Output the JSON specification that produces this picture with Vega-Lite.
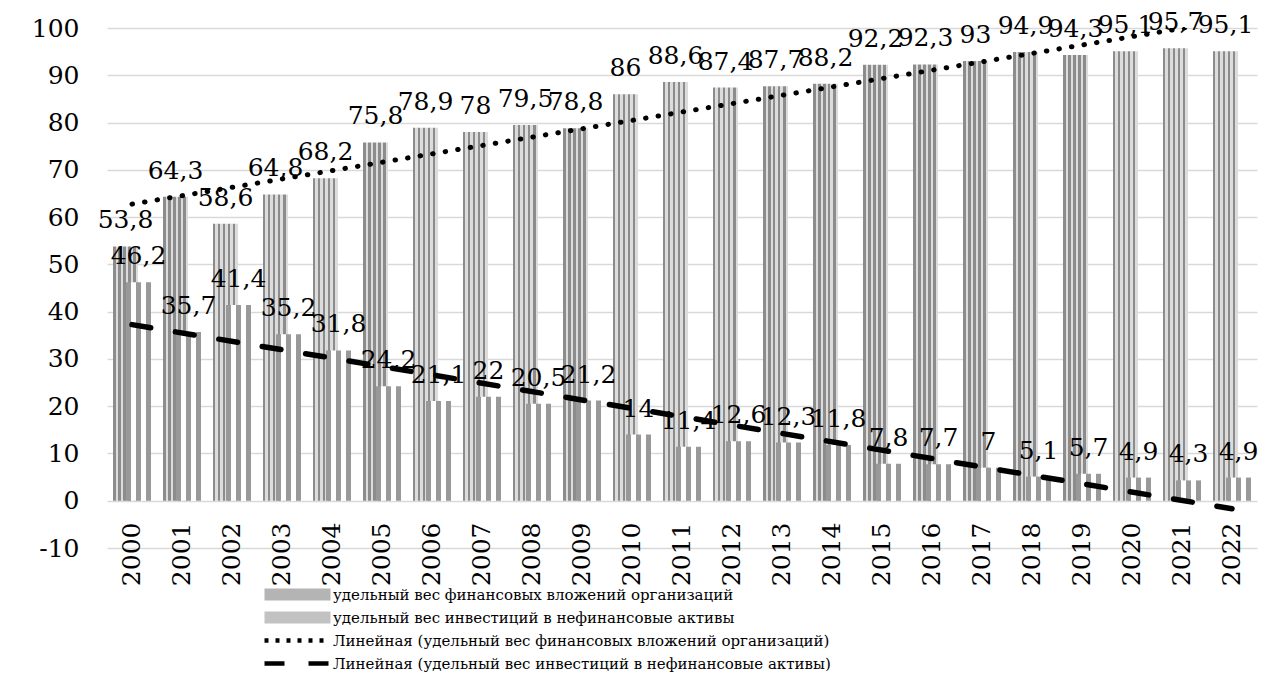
{
  "$schema": "https://vega.github.io/schema/vega-lite/v6.json",
  "width": 1150,
  "height": 520,
  "autosize": {"type": "none"},
  "padding": {"left": 107, "top": 28, "right": 31, "bottom": 136},
  "background": "white",
  "config": {
    "locale": {"number": {"decimal": ",", "thousands": " ", "grouping": [3], "currency": ["", ""], "minus": "-"}},
    "view": {"stroke": null},
    "font": "DejaVu Serif",
    "legend": {"padding": 0}
  },
  "data": {
    "values": [
      {"year": 2000, "fin": 53.8, "nonfin": 46.2},
      {"year": 2001, "fin": 64.3, "nonfin": 35.7},
      {"year": 2002, "fin": 58.6, "nonfin": 41.4},
      {"year": 2003, "fin": 64.8, "nonfin": 35.2},
      {"year": 2004, "fin": 68.2, "nonfin": 31.8},
      {"year": 2005, "fin": 75.8, "nonfin": 24.2},
      {"year": 2006, "fin": 78.9, "nonfin": 21.1},
      {"year": 2007, "fin": 78, "nonfin": 22},
      {"year": 2008, "fin": 79.5, "nonfin": 20.5},
      {"year": 2009, "fin": 78.8, "nonfin": 21.2},
      {"year": 2010, "fin": 86, "nonfin": 14},
      {"year": 2011, "fin": 88.6, "nonfin": 11.4},
      {"year": 2012, "fin": 87.4, "nonfin": 12.6},
      {"year": 2013, "fin": 87.7, "nonfin": 12.3},
      {"year": 2014, "fin": 88.2, "nonfin": 11.8},
      {"year": 2015, "fin": 92.2, "nonfin": 7.8},
      {"year": 2016, "fin": 92.3, "nonfin": 7.7},
      {"year": 2017, "fin": 93, "nonfin": 7},
      {"year": 2018, "fin": 94.9, "nonfin": 5.1},
      {"year": 2019, "fin": 94.3, "nonfin": 5.7},
      {"year": 2020, "fin": 95.1, "nonfin": 4.9},
      {"year": 2021, "fin": 95.7, "nonfin": 4.3},
      {"year": 2022, "fin": 95.1, "nonfin": 4.9}
    ]
  },
  "encoding": {
    "x": {
      "field": "year",
      "type": "ordinal",
      "scale": {"paddingInner": 0, "paddingOuter": 0},
      "axis": {
        "title": null,
        "labelAngle": 270,
        "domain": false,
        "ticks": false,
        "tickSize": 0,
        "offset": -47,
        "labelPadding": 21,
        "labelFontSize": 25,
        "labelFont": "DejaVu Serif",
        "labelColor": "black",
        "grid": false
      }
    }
  },
  "layer": [
    {
      "mark": {
        "type": "bar",
        "width": {"band": 0.5},
        "xOffset": -6.5,
        "fill": {
          "gradient": "linear", "x1": 0, "y1": 0, "x2": 1, "y2": 0,
          "stops": [
            {"offset": 0, "color": "#8c8c8c"}, {"offset": 0.1, "color": "#8c8c8c"},
            {"offset": 0.1, "color": "#dcdcdc"}, {"offset": 0.2, "color": "#dcdcdc"},
            {"offset": 0.2, "color": "#8c8c8c"}, {"offset": 0.3, "color": "#8c8c8c"},
            {"offset": 0.3, "color": "#dcdcdc"}, {"offset": 0.4, "color": "#dcdcdc"},
            {"offset": 0.4, "color": "#8c8c8c"}, {"offset": 0.5, "color": "#8c8c8c"},
            {"offset": 0.5, "color": "#dcdcdc"}, {"offset": 0.6, "color": "#dcdcdc"},
            {"offset": 0.6, "color": "#8c8c8c"}, {"offset": 0.7, "color": "#8c8c8c"},
            {"offset": 0.7, "color": "#dcdcdc"}, {"offset": 0.8, "color": "#dcdcdc"},
            {"offset": 0.8, "color": "#8c8c8c"}, {"offset": 0.9, "color": "#8c8c8c"},
            {"offset": 0.9, "color": "#dcdcdc"}, {"offset": 1, "color": "#dcdcdc"}
          ]
        }
      },
      "encoding": {
        "y": {
          "field": "fin",
          "type": "quantitative",
          "scale": {"domain": [-10, 100], "nice": false, "zero": false},
          "axis": {
            "title": null,
            "values": [-10, 0, 10, 20, 30, 40, 50, 60, 70, 80, 90, 100],
            "grid": true,
            "gridColor": "#d9d9d9",
            "gridWidth": 1.3,
            "domain": false,
            "ticks": false,
            "labelFontSize": 25,
            "labelFont": "DejaVu Serif",
            "labelColor": "black",
            "labelPadding": 28,
            "format": "d"
          }
        },
        "y2": {"datum": 0}
      }
    },
    {
      "mark": {
        "type": "bar",
        "width": {"band": 0.5},
        "xOffset": 6.5,
        "fill": {
          "gradient": "linear", "x1": 0, "y1": 0, "x2": 1, "y2": 0,
          "stops": [
            {"offset": 0, "color": "#999999"}, {"offset": 0.2, "color": "#999999"},
            {"offset": 0.2, "color": "#ffffff"}, {"offset": 0.4, "color": "#ffffff"},
            {"offset": 0.4, "color": "#999999"}, {"offset": 0.6, "color": "#999999"},
            {"offset": 0.6, "color": "#ffffff"}, {"offset": 0.8, "color": "#ffffff"},
            {"offset": 0.8, "color": "#999999"}, {"offset": 1, "color": "#999999"}
          ]
        }
      },
      "encoding": {
        "y": {"field": "nonfin", "type": "quantitative"},
        "y2": {"datum": 0}
      }
    },
    {
      "mark": {"type": "text", "baseline": "alphabetic", "dy": -18, "xOffset": -6.5, "fontSize": 25, "font": "DejaVu Serif", "color": "black"},
      "encoding": {
        "y": {"field": "fin", "type": "quantitative"},
        "text": {"field": "fin", "type": "quantitative", "format": ".1~f"}
      }
    },
    {
      "mark": {"type": "text", "baseline": "alphabetic", "dy": -18, "xOffset": 6.5, "fontSize": 25, "font": "DejaVu Serif", "color": "black"},
      "encoding": {
        "y": {"field": "nonfin", "type": "quantitative"},
        "text": {"field": "nonfin", "type": "quantitative", "format": ".1~f"}
      }
    },
    {
      "transform": [{"regression": "fin", "on": "year"}],
      "mark": {"type": "line", "clip": true, "color": "black", "strokeWidth": 5, "strokeDash": [0.5, 12.2], "strokeCap": "round"},
      "encoding": {
        "y": {"field": "fin", "type": "quantitative"}
      }
    },
    {
      "transform": [{"regression": "nonfin", "on": "year"}],
      "mark": {"type": "line", "clip": true, "color": "black", "strokeWidth": 5.5, "strokeDash": [19, 25], "strokeCap": "round"},
      "encoding": {
        "y": {"field": "nonfin", "type": "quantitative"}
      }
    },
    {
      "transform": [{"filter": "false"}],
      "mark": {"type": "point", "filled": true, "opacity": 1, "strokeWidth": 4.5, "strokeCap": "round"},
      "encoding": {
        "shape": {
          "datum": "удельный вес финансовых вложений организаций",
          "scale": {
            "domain": [
              "удельный вес финансовых вложений организаций",
              "удельный вес инвестиций в нефинансовые активы",
              "Линейная (удельный вес финансовых вложений организаций)",
              "Линейная (удельный вес инвестиций в нефинансовые активы)"
            ],
            "range": ["M-1,-0.18H1V0.18H-1Z", "M-1,-0.18H1V0.18H-1Z", "M-1,0H1", "M-1,0H1"]
          },
          "legend": {
            "orient": "none",
            "legendX": 155,
            "legendY": 555,
            "title": null,
            "direction": "vertical",
            "symbolSize": 4356,
            "symbolStrokeWidth": 4.5,
            "symbolOpacity": 1,
            "clipHeight": 23,
            "rowPadding": 0,
            "labelFontSize": 15,
            "labelFont": "DejaVu Serif",
            "labelColor": "black",
            "labelOffset": 0,
            "labelLimit": 0
          }
        },
        "fill": {
          "datum": "удельный вес финансовых вложений организаций",
          "scale": {
            "domain": [
              "удельный вес финансовых вложений организаций",
              "удельный вес инвестиций в нефинансовые активы",
              "Линейная (удельный вес финансовых вложений организаций)",
              "Линейная (удельный вес инвестиций в нефинансовые активы)"
            ],
            "range": ["#b4b4b4", "#c2c2c2", "transparent", "transparent"]
          }
        },
        "stroke": {
          "datum": "удельный вес финансовых вложений организаций",
          "scale": {
            "domain": [
              "удельный вес финансовых вложений организаций",
              "удельный вес инвестиций в нефинансовые активы",
              "Линейная (удельный вес финансовых вложений организаций)",
              "Линейная (удельный вес инвестиций в нефинансовые активы)"
            ],
            "range": ["transparent", "transparent", "black", "black"]
          }
        },
        "strokeWidth": {
          "datum": "удельный вес финансовых вложений организаций",
          "scale": {
            "domain": [
              "удельный вес финансовых вложений организаций",
              "удельный вес инвестиций в нефинансовые активы",
              "Линейная (удельный вес финансовых вложений организаций)",
              "Линейная (удельный вес инвестиций в нефинансовые активы)"
            ],
            "range": [4.5, 4.5]
          }
        },
        "strokeDash": {
          "datum": "удельный вес финансовых вложений организаций",
          "scale": {
            "domain": [
              "удельный вес финансовых вложений организаций",
              "удельный вес инвестиций в нефинансовые активы",
              "Линейная (удельный вес финансовых вложений организаций)",
              "Линейная (удельный вес инвестиций в нефинансовые активы)"
            ],
            "range": [[1, 0], [1, 0], [4, 7], [20, 24]]
          }
        }
      }
    }
  ]
}
